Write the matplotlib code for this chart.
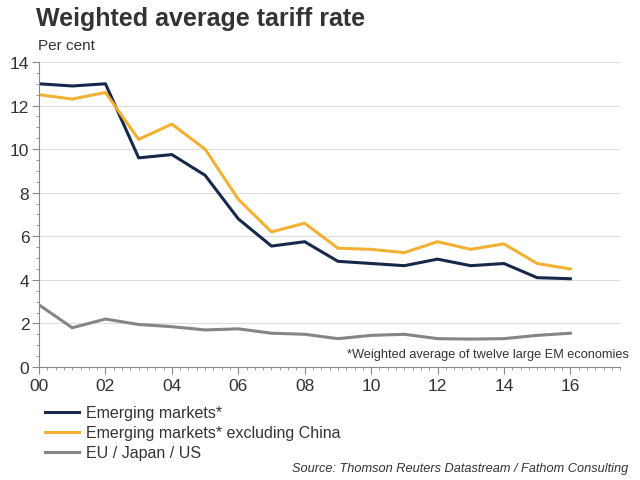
import matplotlib
matplotlib.use("Agg")
import matplotlib.pyplot as plt
from matplotlib.ticker import MultipleLocator
from matplotlib.lines import Line2D

plt.rcParams['font.family'] = ['Liberation Sans', 'DejaVu Sans']

years = list(range(2000, 2017))
tick_labels = ["00", "02", "04", "06", "08", "10", "12", "14", "16"]
em = [13.0, 12.9, 13.0, 9.6, 9.75, 8.8, 6.8, 5.55, 5.75, 4.85, 4.75, 4.65, 4.95, 4.65, 4.75, 4.1, 4.05]
em_ex_china = [12.5, 12.3, 12.6, 10.45, 11.15, 10.0, 7.7, 6.2, 6.6, 5.45, 5.4, 5.25, 5.75, 5.4, 5.65, 4.75, 4.5]
eu_jp_us = [2.85, 1.8, 2.2, 1.95, 1.85, 1.7, 1.75, 1.55, 1.5, 1.3, 1.45, 1.5, 1.3, 1.28, 1.3, 1.45, 1.55]
series_names = ["Emerging markets*", "Emerging markets* excluding China", "EU / Japan / US"]
colors = ["#17294a", "#f2b133", "#858585"]

fig = plt.figure(figsize=(6.4, 4.81), dpi=100)
ax = fig.add_axes([0.061, 0.235, 0.908, 0.634])

for vals, c in zip([em, em_ex_china, eu_jp_us], colors):
    ax.plot(years, vals, color=c, lw=2.2, solid_joinstyle='round')

ax.set_xlim(2000, 2017.5)
ax.set_ylim(0, 14)
ax.set_xticks(list(range(2000, 2017, 2)))
ax.set_xticklabels(tick_labels)
ax.xaxis.set_minor_locator(MultipleLocator(0.25))
ax.yaxis.set_major_locator(MultipleLocator(2))
ax.yaxis.set_minor_locator(MultipleLocator(0.5))
ax.grid(axis='y', color='#dddddd', lw=0.8)
ax.set_axisbelow(True)
for s in ['top', 'right']:
    ax.spines[s].set_visible(False)
for s in ['left', 'bottom']:
    ax.spines[s].set_color('#888888')
    ax.spines[s].set_linewidth(0.8)
ax.tick_params(axis='both', which='major', labelsize=12.5, colors='#888888', labelcolor='#333333', length=5, width=0.8)
ax.tick_params(axis='both', which='minor', colors='#888888', length=2.5, width=0.6)
ax.tick_params(axis='x', pad=3)
ax.tick_params(axis='y', pad=2)

fig.text(0.057, 0.960, "Weighted average tariff rate", fontsize=18, fontweight='bold', color='#333333', va='center', ha='left')
fig.text(0.059, 0.905, "Per cent", fontsize=11, color='#333333', va='center', ha='left')
fig.text(0.983, 0.262, "*Weighted average of twelve large EM economies", fontsize=9.2, color='#333333', ha='right', va='center')
fig.text(0.982, 0.025, "Source: Thomson Reuters Datastream / Fathom Consulting", fontsize=9.2, style='italic', color='#333333', ha='right', va='center')

handles = [Line2D([0], [0], color=c, lw=2.2) for c in colors]
fig.legend(handles, series_names, loc='upper left', bbox_to_anchor=(0.058, 0.172), frameon=False,
           fontsize=11.5, handlelength=2.1, handletextpad=0.45, labelspacing=0.32, borderpad=0, labelcolor='#333333')

fig.savefig("out.png", dpi=100)
